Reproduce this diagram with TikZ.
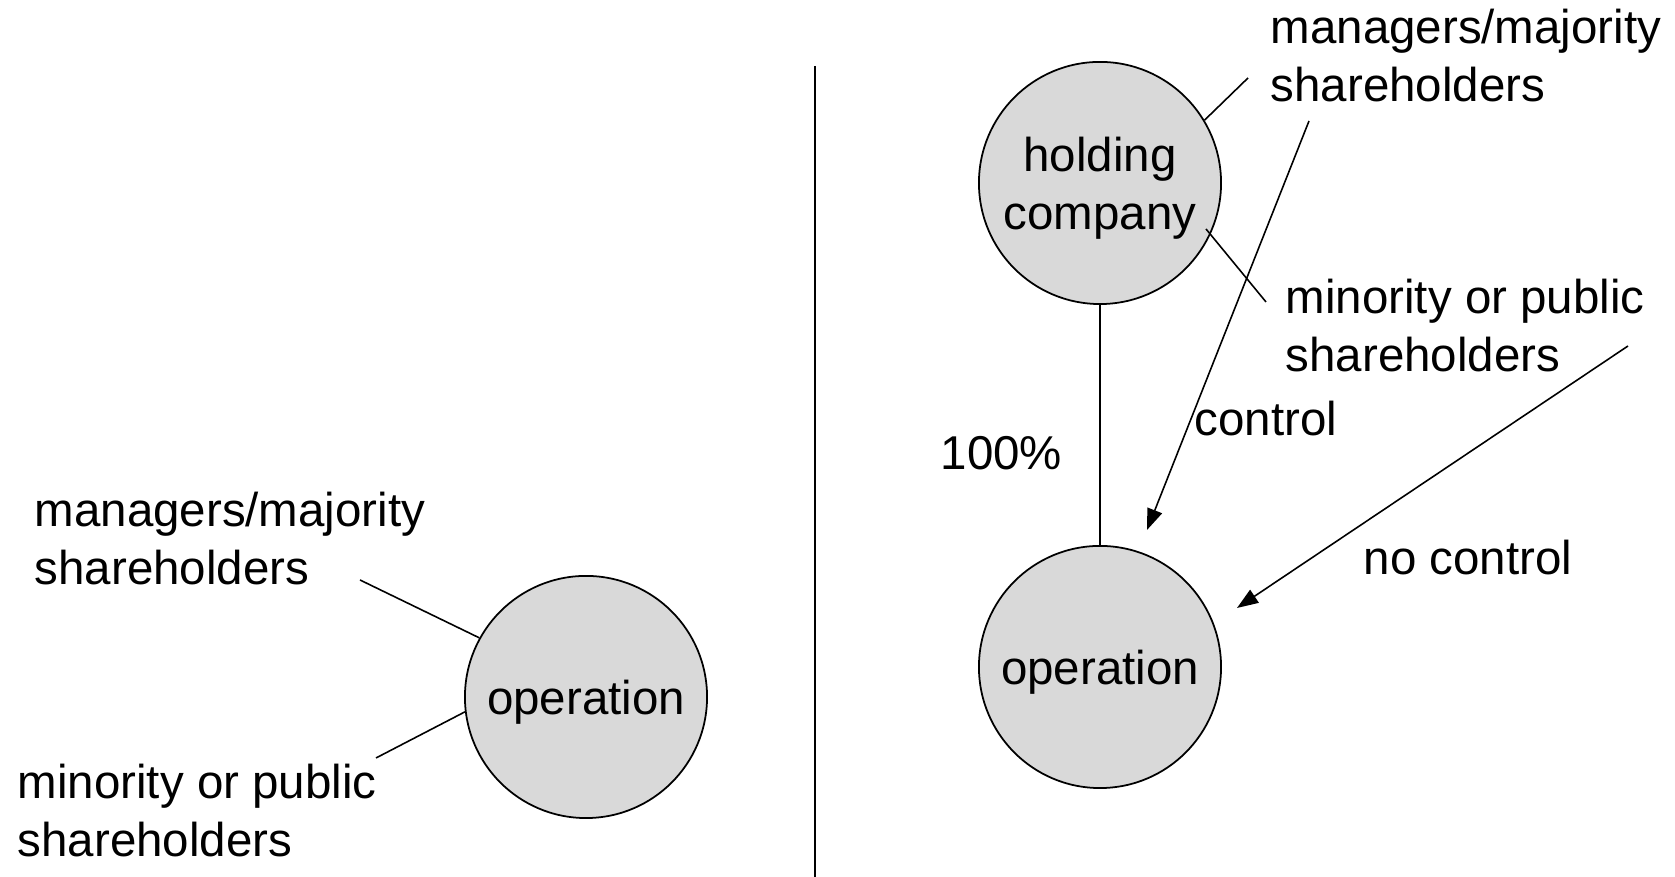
\documentclass[tikz,border=0pt]{standalone}
\usepackage{fontspec}
\setmainfont{Liberation Sans}
\usetikzlibrary{arrows.meta}
\definecolor{discgray}{HTML}{D9D9D9}
% strut matching the 16.5pt line pitch
\newcommand{\ls}{\rule[-4.95pt]{0pt}{16.5pt}}
\tikzset{
  disc/.style={circle, draw=black, fill=discgray, line width=0.5pt, inner sep=0pt, minimum size=2.42cm},
  txt/.style={inner sep=0pt, font=\fontsize{13.5pt}{16.5pt}\selectfont},
  lead/.style={draw=black, line width=0.45pt},
  ctrl/.style={draw=black, line width=0.45pt, -{Triangle[length=6pt, width=4.4pt]}}
}
\begin{document}
\begin{tikzpicture}[x=0.01cm, y=0.01cm]
\useasboundingbox (0,0) rectangle (1675,877);

% divider between the two set-ups
\coordinate (divtop) at (815,811);
\coordinate (divbot) at (815,0);
\draw[lead] (divtop) -- (divbot);

% left: single operating company
\node[disc] (opL) at (586,180) {};
\node[txt] (opLtxt) at (586,173.6) {\ls operation};
\node[txt, anchor=west, align=left] (mgrLtxt) at (34,332.6) {\ls managers/majority\\\ls shareholders};
\node[txt, anchor=west, align=left] (minLtxt) at (17,60.6) {\ls minority or public\\\ls shareholders};
\coordinate (mgrL) at (360,297);
\coordinate (minL) at (376,119);
\draw[lead] (mgrL) -- (opL.151);
\draw[lead] (minL) -- (opL.187);

% right: holding company over operating company
\node[disc] (hold) at (1100,694) {};
\node[txt, align=center] (holdtxt) at (1100,687.6) {\ls holding\\\ls company};
\node[disc] (opR) at (1100,210) {};
\node[txt] (opRtxt) at (1100,203.6) {\ls operation};
\draw[lead] (hold.south) -- (opR.north);
\node[txt, anchor=west] (pct) at (940,418.6) {\ls 100\%};

\node[txt, anchor=west, align=left] (mgrRtxt) at (1270,815.6) {\ls managers/majority\\\ls shareholders};
\node[txt, anchor=west, align=left] (minRtxt) at (1285,545.6) {\ls minority or public\\\ls shareholders};
\coordinate (mgrR) at (1248,799);
\draw[lead] (hold.31) -- (mgrR);
\coordinate (minRa) at (1206,648);
\coordinate (minRb) at (1266,575);
\draw[lead] (minRa) -- (minRb);

\node[txt, anchor=west] (ctrltxt) at (1194,452.6) {\ls control};
\coordinate (ctrlA) at (1309,756);
\coordinate (ctrlB) at (1147,347);
\draw[ctrl] (ctrlA) -- (ctrlB);

\node[txt, anchor=west] (nctrltxt) at (1363,314) {\ls no control};
\coordinate (nctrlA) at (1628,531);
\coordinate (nctrlB) at (1237,269);
\draw[ctrl] (nctrlA) -- (nctrlB);
\end{tikzpicture}
\end{document}
